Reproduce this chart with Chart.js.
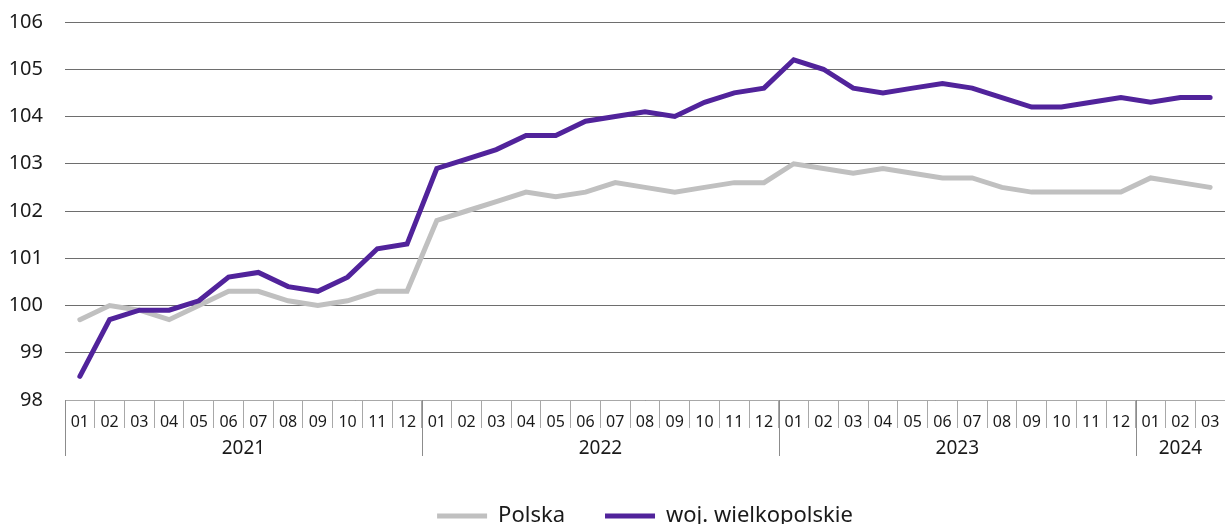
<!DOCTYPE html>
<html lang="pl">
<head>
<meta charset="utf-8">
<title>Wskaźnik</title>
<script src="https://cdn.jsdelivr.net/npm/chart.js@4"></script>
<style>
  html, body { margin: 0; padding: 0; background: #fff; overflow: hidden; }
  #wrap { width: 1225px; height: 524px; overflow: hidden; }
</style>
</head>
<body>
<div id="wrap"><canvas id="chart" width="1225" height="540"></canvas></div>
<script>
// months shown on the lower axis row, grouped by year
const months = [
  '01','02','03','04','05','06','07','08','09','10','11','12',
  '01','02','03','04','05','06','07','08','09','10','11','12',
  '01','02','03','04','05','06','07','08','09','10','11','12',
  '01','02','03'
];
const years = ['2021', '2022', '2023', '2024'];
const monthsInYear = [12, 12, 12, 3];

const polska = [
  99.7, 100.0, 99.9, 99.7, 100.0, 100.3, 100.3, 100.1, 100.0, 100.1, 100.3, 100.3,
  101.8, 102.0, 102.2, 102.4, 102.3, 102.4, 102.6, 102.5, 102.4, 102.5, 102.6, 102.6,
  103.0, 102.9, 102.8, 102.9, 102.8, 102.7, 102.7, 102.5, 102.4, 102.4, 102.4, 102.4,
  102.7, 102.6, 102.5
];
const wielkopolskie = [
  98.5, 99.7, 99.9, 99.9, 100.1, 100.6, 100.7, 100.4, 100.3, 100.6, 101.2, 101.3,
  102.9, 103.1, 103.3, 103.6, 103.6, 103.9, 104.0, 104.1, 104.0, 104.3, 104.5, 104.6,
  105.2, 105.0, 104.6, 104.5, 104.6, 104.7, 104.6, 104.4, 104.2, 104.2, 104.3, 104.4,
  104.3, 104.4, 104.4
];
const yMin = 98;
const yMax = 106;

const FONT = "'Noto Sans', 'Open Sans', sans-serif";

// second row of the x axis: year names and longer separators
const yearRow = {
  id: 'yearRow',
  afterDraw(chart) {
    const x = chart.scales.x;
    const ctx = chart.ctx;
    const top = x.top;
    const half = (x.getPixelForValue(1) - x.getPixelForValue(0)) / 2;
    ctx.save();
    ctx.strokeStyle = '#8c8c8c';
    ctx.lineWidth = 1;
    ctx.fillStyle = '#1a1a1a';
    ctx.font = '19px ' + FONT;
    ctx.textAlign = 'center';
    ctx.textBaseline = 'middle';
    let start = 0;
    years.forEach((yr, i) => {
      const end = start + monthsInYear[i] - 1;
      const left = x.getPixelForValue(start) - half;
      const right = x.getPixelForValue(end) + half;
      const lx = Math.round(left) + 0.5;
      ctx.beginPath();
      ctx.moveTo(lx, top);
      ctx.lineTo(lx, top + 56);
      ctx.stroke();
      ctx.fillText(yr, (left + right) / 2, top + 49);
      start = end + 1;
    });
    ctx.restore();
  }
};

new Chart(document.getElementById('chart'), {
  type: 'line',
  data: {
    labels: months,
    datasets: [
      {
        label: 'Polska',
        data: polska,
        borderColor: '#c0c0c0',
        backgroundColor: '#c0c0c0',
        borderWidth: 5,
        borderCapStyle: 'round',
        pointRadius: 0,
        tension: 0,
        order: 2,
      },
      {
        label: 'woj. wielkopolskie',
        data: wielkopolskie,
        borderColor: '#51239b',
        backgroundColor: '#51239b',
        borderWidth: 5,
        borderCapStyle: 'round',
        pointRadius: 0,
        tension: 0,
        order: 1,
      },
    ],
  },
  options: {
    responsive: false,
    animation: false,
    layout: { padding: { top: 22, bottom: 3, left: 0, right: 0 } },
    plugins: {
      tooltip: { enabled: false },
      legend: {
        position: 'bottom',
        fullSize: false,
        labels: {
          usePointStyle: true,
          pointStyle: 'line',
          pointStyleWidth: 50,
          padding: 40,
          color: '#1a1a1a',
          font: { family: FONT, size: 22 },
          sort: (a, b) => a.datasetIndex - b.datasetIndex,
        },
      },
    },
    scales: {
      x: {
        offset: true,
        grid: {
          offset: true,
          drawOnChartArea: false,
          tickLength: 28,
          color: '#a8a8a8',
        },
        border: { display: true, color: '#a8a8a8' },
        ticks: {
          autoSkip: false,
          maxRotation: 0,
          padding: -15,
          color: '#1a1a1a',
          font: { family: FONT, size: 16 },
        },
        afterFit: (s) => { s.height = 65; },
      },
      y: {
        min: yMin,
        max: yMax,
        ticks: {
          stepSize: 1,
          padding: 22,
          color: '#1a1a1a',
          font: { family: FONT, size: 20 },
        },
        grid: { color: '#6e6e6e', drawTicks: false },
        border: { display: false },
        afterFit: (s) => { s.width = 65; s.paddingTop = 0; s.paddingBottom = 0; },
      },
    },
  },
  plugins: [yearRow],
});
</script>
</body>
</html>
